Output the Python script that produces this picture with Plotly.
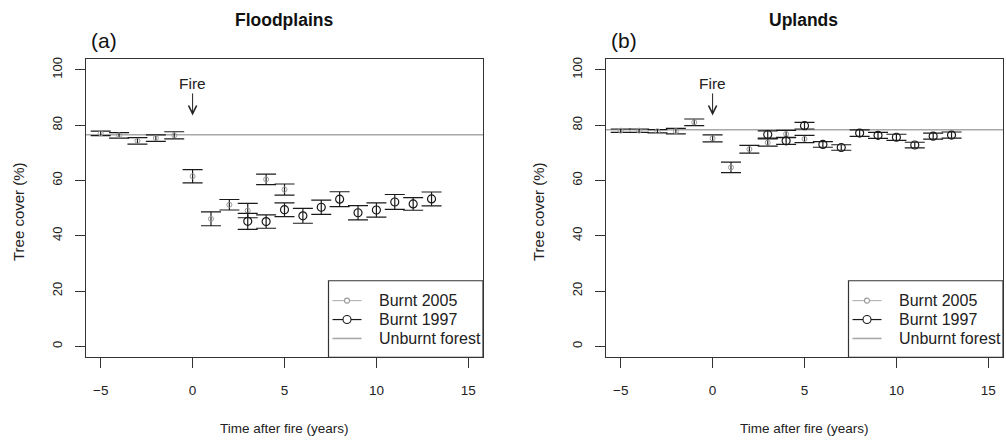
import plotly.graph_objects as go

# ---------------- data ----------------
years_2005 = [-5, -4, -3, -2, -1, 0, 1, 2, 3, 4, 5]
years_1997 = [3, 4, 5, 6, 7, 8, 9, 10, 11, 12, 13]

flood_2005 = [77.0, 76.3, 74.3, 75.3, 76.3, 61.5, 46.1, 51.2, 49.1, 60.4, 56.7]
flood_2005_se = [0.8, 1.0, 1.2, 1.2, 1.3, 2.4, 2.5, 1.9, 2.6, 1.9, 2.0]
flood_1997 = [45.2, 45.1, 49.4, 47.2, 50.3, 53.2, 48.3, 49.3, 52.2, 51.5, 53.3]
flood_1997_se = [2.9, 2.4, 2.5, 2.7, 2.6, 2.7, 2.6, 2.6, 2.7, 2.3, 2.5]
flood_unburnt = 76.5

up_2005 = [78.0, 78.0, 77.8, 77.8, 81.0, 75.2, 64.7, 71.3, 73.7, 76.8, 75.0]
up_2005_se = [0.6, 0.6, 0.6, 1.0, 1.2, 1.3, 1.9, 1.4, 1.3, 1.3, 1.3]
up_1997 = [76.6, 74.3, 79.8, 73.0, 71.9, 77.1, 76.3, 75.6, 72.8, 76.0, 76.4]
up_1997_se = [1.3, 1.3, 1.2, 1.0, 1.0, 1.2, 1.1, 1.1, 1.0, 1.1, 1.1]
up_unburnt = 78.3

panel_titles = ["Floodplains", "Uplands"]
panel_tags = ["(a)", "(b)"]
legend_labels = ["Burnt 2005", "Burnt 1997", "Unburnt forest"]
x_ticks = [-5, 0, 5, 10, 15]
y_ticks = [0, 20, 40, 60, 80, 100]
x_title = "Time after fire (years)"
y_title = "Tree cover (%)"

# ---------------- layout helpers ----------------
W, H = 1006, 442
FONT = "Liberation Sans, Arial, Helvetica, sans-serif"
GRAY_LINE = "#a8a8a8"
GRAY_PT = "#9a9a9a"
DARK = "#1a1a1a"


def px(x):
    return x / W


def py(y):
    return 1 - y / H


panels = [
    dict(left=86, right=483),
    dict(left=606, right=1003),
]
top, bottom = 57, 357

fig = go.Figure()

datasets = [
    (flood_2005, flood_2005_se, flood_1997, flood_1997_se, flood_unburnt),
    (up_2005, up_2005_se, up_1997, up_1997_se, up_unburnt),
]

for i, (d05, e05, d97, e97, unb) in enumerate(datasets):
    xa = "x" if i == 0 else "x2"
    ya = "y" if i == 0 else "y2"
    # unburnt forest line
    fig.add_trace(go.Scatter(
        x=[-5.8, 15.8], y=[unb, unb], mode="lines",
        line=dict(color=GRAY_LINE, width=1.6),
        name=legend_labels[2], showlegend=False, xaxis=xa, yaxis=ya,
        hoverinfo="skip"))
    # burnt 2005
    fig.add_trace(go.Scatter(
        x=years_2005, y=d05, mode="markers",
        marker=dict(symbol="circle-open", size=5, color=GRAY_PT, line=dict(width=1, color=GRAY_PT)),
        error_y=dict(type="data", array=e05, visible=True, color=DARK, thickness=1.2, width=10),
        name=legend_labels[0], showlegend=False, xaxis=xa, yaxis=ya))
    # burnt 1997
    fig.add_trace(go.Scatter(
        x=years_1997, y=d97, mode="markers",
        marker=dict(symbol="circle-open", size=8, color=DARK, line=dict(width=1.2, color=DARK)),
        error_y=dict(type="data", array=e97, visible=True, color=DARK, thickness=1.2, width=10),
        name=legend_labels[1], showlegend=False, xaxis=xa, yaxis=ya))

axis_common = dict(
    showgrid=False, zeroline=False, showline=True, mirror=True,
    linecolor="#333333", linewidth=1.2, ticks="outside", ticklen=10,
    tickwidth=1.2, tickcolor="#333333",
)

for i, p in enumerate(panels):
    sfx = "" if i == 0 else "2"
    fig.update_layout(**{
        f"xaxis{sfx}": dict(
            axis_common, domain=[px(p["left"]), px(p["right"])],
            range=[-5.8, 15.8], tickvals=x_ticks, anchor=f"y{sfx}",
            tickfont=dict(family=FONT, size=13.5, color="#222222"),
            ticklabelstandoff=10),
        f"yaxis{sfx}": dict(
            axis_common, domain=[py(bottom), py(top)],
            range=[-4, 104], tickvals=y_ticks, tickangle=-90, anchor=f"x{sfx}",
            tickfont=dict(family=FONT, size=13, color="#222222"),
            ticklabelstandoff=8),
    })

annotations = []
shapes = []
for i, p in enumerate(panels):
    cx = (p["left"] + p["right"]) / 2
    sfx = "" if i == 0 else "2"
    # panel title
    annotations.append(dict(
        x=px(cx - 1), y=py(18), xref="paper", yref="paper", text=f"<b>{panel_titles[i]}</b>",
        showarrow=False, font=dict(family=FONT, size=17.5, color="#111111"),
        xanchor="center", yanchor="middle"))
    # panel tag
    annotations.append(dict(
        x=px(p["left"] + 3), y=py(39), xref="paper", yref="paper", text=panel_tags[i],
        showarrow=False, font=dict(family=FONT, size=21, color="#111111"),
        xanchor="left", yanchor="middle"))
    # axis titles
    annotations.append(dict(
        x=px(cx), y=py(428), xref="paper", yref="paper", text=x_title,
        showarrow=False, font=dict(family=FONT, size=13.5, color="#222222"),
        xanchor="center", yanchor="middle"))
    annotations.append(dict(
        x=px(p["left"] - 68), y=py((top + bottom) / 2 + 4), xref="paper", yref="paper",
        text=y_title, textangle=-90, showarrow=False,
        font=dict(family=FONT, size=15, color="#222222"),
        xanchor="center", yanchor="middle"))
    # fire arrow
    annotations.append(dict(
        x=0, y=83.5, xref=f"x{sfx}", yref=f"y{sfx}", text="Fire",
        showarrow=True, arrowhead=5, arrowsize=1.6, arrowwidth=1, arrowcolor="#222222",
        ax=0, ay=-32, standoff=0,
        font=dict(family=FONT, size=15.5, color="#222222")))

    # manual legend box
    lx0, ly0 = p["left"] + 242.5, 280
    lx1, ly1 = p["right"], bottom
    shapes.append(dict(type="rect", xref="paper", yref="paper",
                       x0=px(lx0), x1=px(lx1), y0=py(ly1), y1=py(ly0),
                       line=dict(color="#333333", width=1.2), fillcolor="rgba(255,255,255,0)"))
    rows = [300, 319, 338]
    sx0, sx1 = lx0 + 4, lx0 + 33
    styles = [
        dict(color=GRAY_LINE, width=1, circ=GRAY_PT, r=2.5),
        dict(color=DARK, width=1.2, circ=DARK, r=4),
        dict(color=GRAY_LINE, width=1.6, circ=None, r=0),
    ]
    for r, st, lab in zip(rows, styles, legend_labels):
        shapes.append(dict(type="line", xref="paper", yref="paper",
                           x0=px(sx0), x1=px(sx1), y0=py(r), y1=py(r),
                           line=dict(color=st["color"], width=st["width"])))
        if st["circ"]:
            shapes.append(dict(type="circle", xref="paper", yref="paper",
                               xsizemode="pixel", ysizemode="pixel",
                               xanchor=px((sx0 + sx1) / 2), yanchor=py(r),
                               x0=-st["r"], x1=st["r"], y0=-st["r"], y1=st["r"],
                               line=dict(color=st["circ"], width=1.1), fillcolor="white"))
        annotations.append(dict(
            x=px(lx0 + 48), y=py(r), xref="paper", yref="paper", text=lab,
            showarrow=False, font=dict(family=FONT, size=16, color="#222222"),
            xanchor="left", yanchor="middle"))

fig.update_layout(
    width=W, height=H,
    margin=dict(l=0, r=0, t=0, b=0),
    paper_bgcolor="white", plot_bgcolor="white",
    showlegend=False,
    annotations=annotations, shapes=shapes,
    font=dict(family=FONT),
)

fig.write_html("out.html")
